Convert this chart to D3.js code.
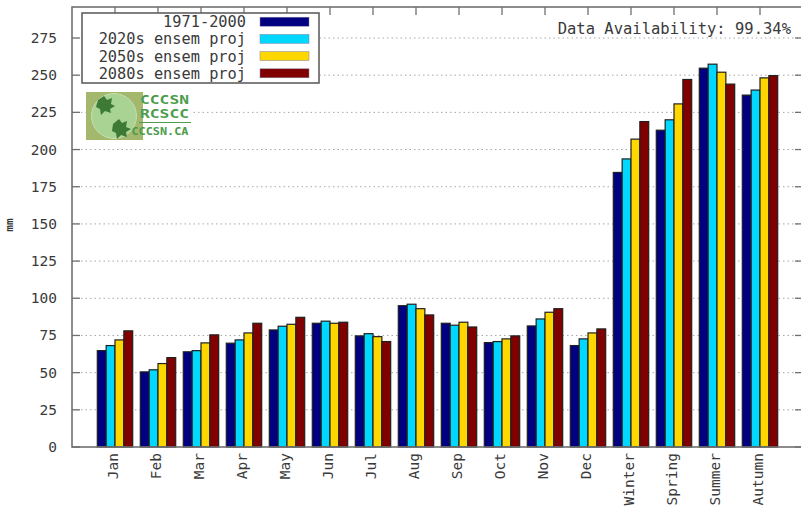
<!DOCTYPE html>
<html>
<head>
<meta charset="utf-8">
<script src="https://cdn.jsdelivr.net/npm/d3@7"></script>
<style>
body{margin:0;background:#fff;}
text{font-family:"DejaVu Sans Mono","Liberation Mono",monospace;}
</style>
</head>
<body>
<div id="container"></div>
<script>
let w=801;
let h=523;

// data
let categories=["Jan","Feb","Mar","Apr","May","Jun","Jul","Aug","Sep","Oct","Nov","Dec","Winter","Spring","Summer","Autumn"];
let seriesNames=["1971-2000","2020s ensem proj","2050s ensem proj","2080s ensem proj"];
let seriesColors=["#000080","#00d8ff","#ffd700","#800000"];
let base1971=[64.8,50.5,64.0,69.8,78.7,83.2,74.7,95.0,83.2,70.2,81.4,68.2,184.6,213.0,254.7,236.6];
let proj2020=[68.2,51.9,64.8,72.0,81.2,84.6,76.2,96.0,81.9,70.9,86.1,72.7,193.7,220.0,257.4,240.0];
let proj2050=[72.0,56.1,70.0,76.7,82.5,83.2,74.2,93.0,83.9,72.7,90.6,76.7,207.0,230.7,252.0,248.2];
let proj2080=[78.1,60.1,75.4,83.2,87.2,83.9,70.9,88.8,80.7,74.7,93.0,79.4,218.8,247.1,244.0,249.7];
let yTicks=[0,25,50,75,100,125,150,175,200,225,250,275];
let availability="Data Availability: 99.34%";

let allSeries=[base1971,proj2020,proj2050,proj2080];

let pLeft=72, pRight=803, pTop=7, pBottom=447;

let x=d3.scaleLinear().domain([-1,16]).range([pLeft,pRight]);
let y=d3.scaleLinear().domain([0,275]).range([pBottom,38]);
let xBar=d3.scaleBand().domain(d3.range(4)).range([-17.7,17.7]);

let viz=d3.select("#container").append("svg")
  .attr("width",w).attr("height",h);

// grid lines
viz.append("g").selectAll("line").data(yTicks.slice(1)).enter()
  .append("line")
  .attr("x1",pLeft).attr("x2",pRight)
  .attr("y1",d=>y(d)).attr("y2",d=>y(d))
  .attr("stroke","#a8a8a8")
  .attr("stroke-width",1)
  .attr("stroke-dasharray","1.5,3");

// y tick labels
viz.append("g").selectAll("text").data(yTicks).enter()
  .append("text")
  .text(d=>d)
  .attr("x",57)
  .attr("y",d=>y(d)+5)
  .attr("text-anchor","end")
  .attr("font-size",14.5)
  .attr("fill","#3a3a3a");

// left/right ticks
let tk=viz.append("g").attr("stroke","#707070").attr("stroke-width",1.3);
yTicks.forEach(function(v){
  tk.append("line").attr("x1",pLeft).attr("x2",pLeft+8).attr("y1",y(v)).attr("y2",y(v));
  tk.append("line").attr("x1",pRight-8).attr("x2",pRight).attr("y1",y(v)).attr("y2",y(v));
});
categories.forEach(function(c,i){
  tk.append("line").attr("x1",x(i)).attr("x2",x(i)).attr("y1",pTop).attr("y2",pTop+8);
});

// bars
let groups=viz.append("g").selectAll(".datagroup").data(categories).enter()
  .append("g")
  .attr("class","datagroup")
  .attr("transform",(d,i)=>"translate("+x(i)+",0)");

groups.selectAll("rect").data((d,i)=>allSeries.map((s,k)=>({k:k,v:s[i]}))).enter()
  .append("rect")
  .attr("x",d=>xBar(d.k))
  .attr("y",d=>y(d.v))
  .attr("width",xBar.bandwidth())
  .attr("height",d=>pBottom-y(d.v))
  .attr("fill",d=>seriesColors[d.k])
  .attr("stroke","#202020")
  .attr("stroke-width",1.2);

// frame
viz.append("rect")
  .attr("x",pLeft).attr("y",pTop)
  .attr("width",pRight-pLeft).attr("height",pBottom-pTop)
  .attr("fill","none")
  .attr("stroke","#707070")
  .attr("stroke-width",1.6);

// x labels
viz.append("g").selectAll("text").data(categories).enter()
  .append("text")
  .text(d=>d)
  .attr("transform",(d,i)=>"translate("+(x(i)+3)+",453) rotate(-90)")
  .attr("text-anchor","end")
  .attr("font-size",14.5)
  .attr("fill","#3a3a3a");

// y label
viz.append("text")
  .text("mm")
  .attr("transform","translate(13,225) rotate(-90)")
  .attr("text-anchor","middle")
  .attr("font-size",11)
  .attr("font-weight","bold")
  .attr("fill","#333");

// availability
viz.append("text")
  .text(availability)
  .attr("x",791)
  .attr("y",33.5)
  .attr("text-anchor","end")
  .attr("font-size",15.5)
  .attr("fill","#3a3a3a");

// legend
let legend=viz.append("g");
legend.append("rect")
  .attr("x",82).attr("y",13)
  .attr("width",237).attr("height",70)
  .attr("fill","#fff")
  .attr("stroke","#606060")
  .attr("stroke-width",1.6);
seriesNames.forEach(function(n,k){
  let ly=21.7+k*17.2;
  legend.append("text")
    .text(n)
    .attr("x",246).attr("y",ly+5.5)
    .attr("text-anchor","end")
    .attr("font-size",15.3)
    .attr("fill","#3a3a3a");
  legend.append("rect")
    .attr("x",260).attr("y",ly-4.5)
    .attr("width",49).attr("height",9)
    .attr("fill",seriesColors[k])
    .attr("stroke","#8080a0")
    .attr("stroke-width",0.5);
});

// logo
let logo=viz.append("g");
let sans="Liberation Sans,Arial,sans-serif";
logo.append("rect").attr("x",86).attr("y",92).attr("width",106).attr("height",48).attr("fill","#fff");
logo.append("rect").attr("x",86).attr("y",92).attr("width",57).attr("height",48).attr("fill","#a3b86c");
logo.append("circle").attr("cx",114).attr("cy",116).attr("r",22.5).attr("fill","#a9d393").attr("stroke","#c4e0b0");
logo.append("path").attr("d","M98,100 l6,-4 l3,4 l5,-2 l-1,6 l4,2 l-5,3 l1,4 l-6,-2 l-4,4 l-1,-6 l-4,-2 z").attr("fill","#3c7a36");
logo.append("path").attr("d","M113,124 l6,-5 l3,4 l5,-2 l-1,6 l5,2 l-5,3 l1,5 l-6,-2 l-4,4 l-1,-6 l-4,-2 z").attr("fill","#3c7a36");
logo.append("text").text("CCCSN").attr("x",140).attr("y",103.5).attr("font-family",sans).attr("font-weight","bold").attr("font-size",12)
  .attr("textLength",49).attr("lengthAdjust","spacingAndGlyphs").attr("fill","#4c9c4c");
logo.append("text").text("RCSCC").attr("x",140).attr("y",118).attr("font-family",sans).attr("font-weight","bold").attr("font-size",12)
  .attr("textLength",49).attr("lengthAdjust","spacingAndGlyphs").attr("fill","#4c9c4c");
logo.append("line").attr("x1",139).attr("x2",191).attr("y1",122.5).attr("y2",122.5).attr("stroke","#4c9c4c").attr("stroke-width",1.2);
logo.append("text").text("CCCSN.CA").attr("x",131.5).attr("y",135).attr("font-family",sans).attr("font-weight","bold").attr("font-size",10.5)
  .attr("textLength",57).attr("lengthAdjust","spacingAndGlyphs").attr("fill","#4c9c4c");
</script>
</body>
</html>
